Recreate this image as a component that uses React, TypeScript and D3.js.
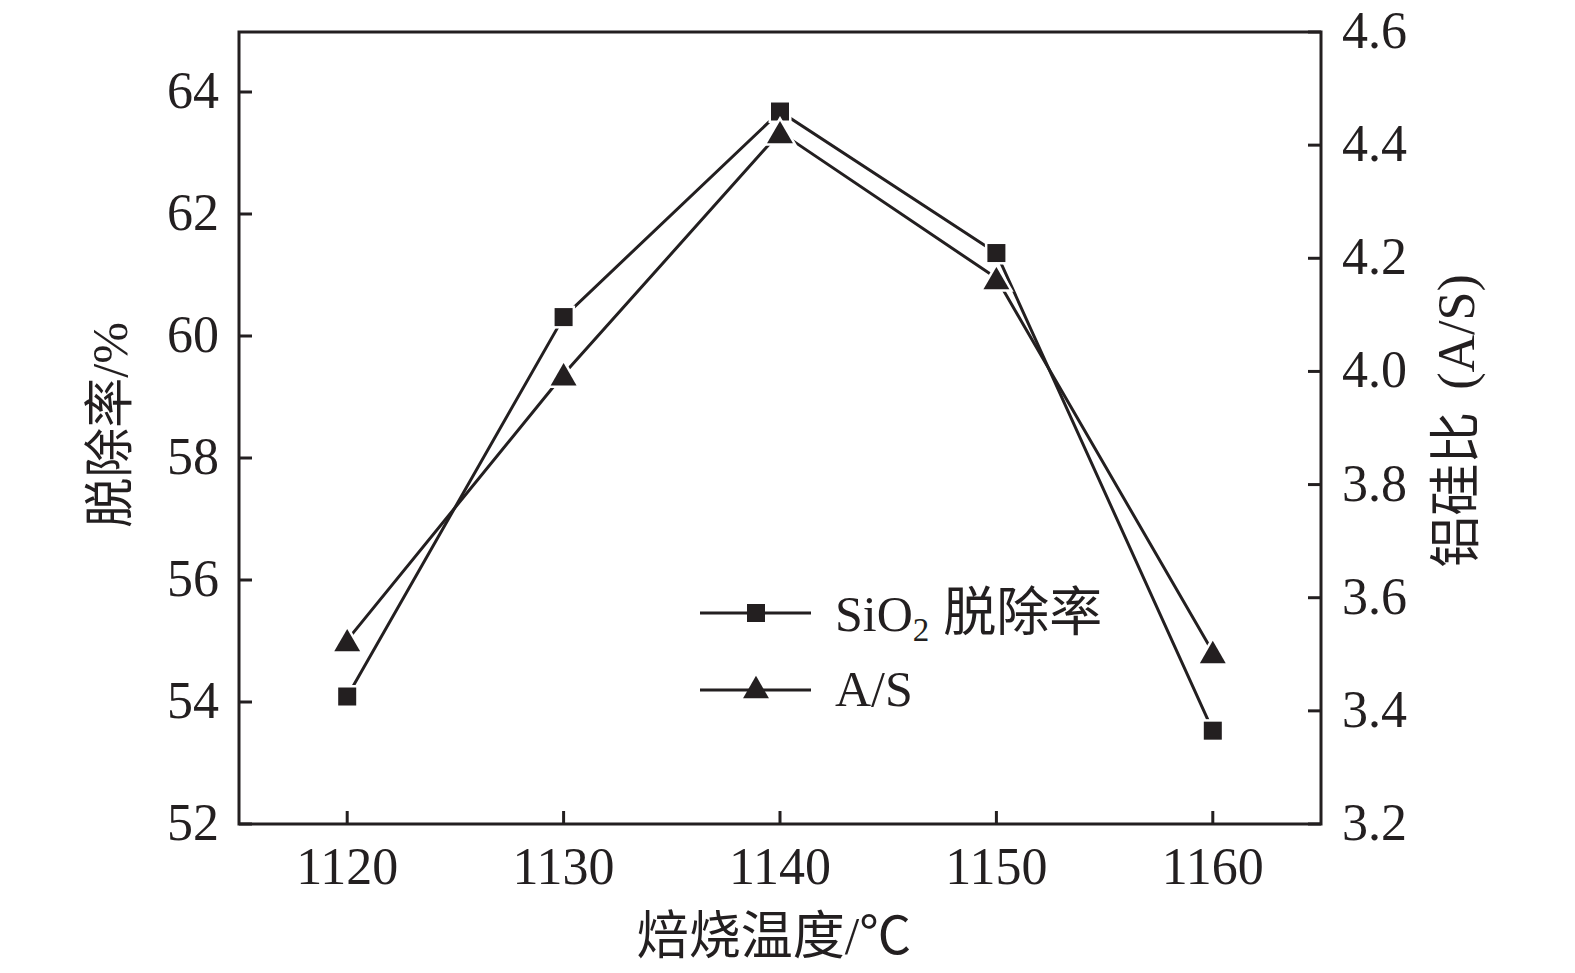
import React from "react";
import * as d3 from "d3";

const temps = [1120, 1130, 1140, 1150, 1160];
const removalRate = [54.09, 60.31, 63.68, 61.36, 53.53];
const asRatio = [3.525, 3.995, 4.423, 4.165, 3.504];
const leftTicks = [52, 54, 56, 58, 60, 62, 64];
const rightTicks = [3.2, 3.4, 3.6, 3.8, 4.0, 4.2, 4.4, 4.6];
const xTicks = [1120, 1130, 1140, 1150, 1160];

const W = 1575, H = 973;
const M = { left: 239, right: 1321, top: 32, bottom: 824 };
const ink = "#231f20";
const font = "'Liberation Serif', 'Times New Roman', 'Noto Sans CJK SC', serif";

export default function App() {
  const x = d3.scaleLinear().domain([1115, 1165]).range([M.left, M.right]);
  const yL = d3.scaleLinear().domain([52, 64]).range([M.bottom, M.bottom - 12 * 61]);
  const yR = d3.scaleLinear().domain([3.2, 4.6]).range([M.bottom, M.top]);

  const lineL = d3.line<number>().x((_, i) => x(temps[i])).y((d) => yL(d));
  const lineR = d3.line<number>().x((_, i) => x(temps[i])).y((d) => yR(d));
  const tri = d3.symbol().type(d3.symbolTriangle).size(290)();
  const triOff = Math.sqrt(290 / (Math.sqrt(3) * 3)) / 2;
  const sq = 18;

  return (
    <div style={{ position: "fixed", left: 0, top: 0, width: W, height: H, overflow: "hidden", background: "#fff" }}>
      <svg width={W} height={H} style={{ display: "block" }}>
        <rect x={0} y={0} width={W} height={H} fill="#fff" />
        <rect x={M.left} y={M.top} width={M.right - M.left} height={M.bottom - M.top} fill="none" stroke={ink} strokeWidth={3} />
        {leftTicks.map((t) => (
          <g key={"l" + t}>
            <line x1={M.left} x2={M.left + 13} y1={yL(t)} y2={yL(t)} stroke={ink} strokeWidth={3} />
            <text x={219} y={yL(t) + 16} textAnchor="end" fontFamily={font} fontSize={52} fill={ink}>{t}</text>
          </g>
        ))}
        {rightTicks.map((t) => (
          <g key={"r" + t}>
            <line x1={M.right} x2={M.right - 13} y1={yR(t)} y2={yR(t)} stroke={ink} strokeWidth={3} />
            <text x={1342} y={yR(t) + 16} textAnchor="start" fontFamily={font} fontSize={52} fill={ink}>{t.toFixed(1)}</text>
          </g>
        ))}
        {xTicks.map((t) => (
          <g key={"x" + t}>
            <line x1={x(t)} x2={x(t)} y1={M.bottom} y2={M.bottom - 13} stroke={ink} strokeWidth={3} />
            <text x={x(t)} y={884} textAnchor="middle" fontFamily={font} fontSize={52} fill={ink}>{t}</text>
          </g>
        ))}
        <text x={774} y={954} textAnchor="middle" fontFamily={font} fontSize={52} fill={ink}>焙烧温度/℃</text>
        <text transform={`translate(127,425) rotate(-90)`} textAnchor="middle" fontFamily={font} fontSize={50} fill={ink}>脱除率/%</text>
        <text transform={`translate(1474,421) rotate(-90)`} textAnchor="middle" fontFamily={font} fontSize={52} fill={ink}>
          铝硅比<tspan dx={22}>(A/S)</tspan>
        </text>
        <path d={lineL(removalRate) || ""} fill="none" stroke={ink} strokeWidth={3} />
        <path d={lineR(asRatio) || ""} fill="none" stroke={ink} strokeWidth={3} />
        {removalRate.map((v, i) => (
          <rect key={"s" + i} x={x(temps[i]) - sq / 2} y={yL(v) - sq / 2} width={sq} height={sq}
            fill={ink} stroke="#fff" strokeWidth={5} paintOrder="stroke" />
        ))}
        {asRatio.map((v, i) => (
          <path key={"t" + i} d={tri || ""} transform={`translate(${x(temps[i])},${yR(v) + triOff})`}
            fill={ink} stroke="#fff" strokeWidth={5} paintOrder="stroke" />
        ))}
        <line x1={700} x2={811} y1={613} y2={613} stroke={ink} strokeWidth={3} />
        <rect x={756 - sq / 2} y={613 - sq / 2} width={sq} height={sq} fill={ink} />
        <text x={835} y={631} fontFamily={font} fontSize={50} fill={ink}>
          SiO<tspan fontSize={33} dy={10}>2</tspan><tspan dy={-10} dx={14} fontSize={53}>脱除率</tspan>
        </text>
        <line x1={700} x2={811} y1={690} y2={690} stroke={ink} strokeWidth={3} />
        <path d={tri || ""} transform={`translate(756,${687 + triOff})`} fill={ink} />
        <text x={835} y={706} fontFamily={font} fontSize={50} fill={ink}>A/S</text>
      </svg>
    </div>
  );
}
